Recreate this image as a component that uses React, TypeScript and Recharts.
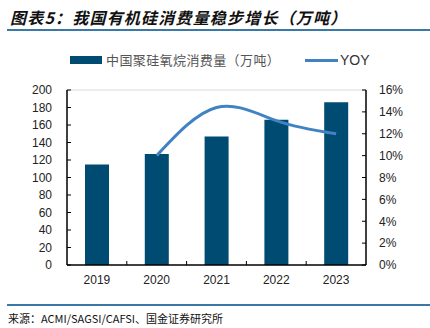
import React from 'react';
import { ComposedChart, Bar, Line, XAxis, YAxis, ReferenceLine } from 'recharts';

const years = ['2019', '2020', '2021', '2022', '2023'];
const consumption = [115, 127, 147, 166, 186];
const yoy: (number | null)[] = [null, 10.0, 14.4, 13.2, 12.0];
const leftTicks = [0, 20, 40, 60, 80, 100, 120, 140, 160, 180, 200];
const rightTicks = [0, 2, 4, 6, 8, 10, 12, 14, 16];

const data = years.map((y, i) => ({ year: y, value: consumption[i], yoy: yoy[i] }));

const BAR = '#004B71';
const LINE = '#4182C3';
const FONT = '"Liberation Sans", Arial, sans-serif';
const CJK = '"Noto Sans CJK SC", sans-serif';

const XTick = (props: any) => {
  const { x, y, payload, index, visibleTicksCount, width } = props;
  const bw = width / (visibleTicksCount || 5);
  return (
    <g>
      <text x={x} y={y + 19} textAnchor="middle" fontSize={12} fontFamily={FONT} fill="#222">
        {payload.value}
      </text>
      {index < (visibleTicksCount || 5) - 1 && (
        <line x1={x + bw / 2} x2={x + bw / 2} y1={y} y2={y - 4} stroke="#000" strokeWidth={1} />
      )}
    </g>
  );
};

export default function App() {
  return (
    <div style={{ position: 'absolute', left: 0, top: 0, width: 430, height: 328, background: '#fff', overflow: 'hidden' }}>
      <div style={{ position: 'absolute', left: 10, top: 5, fontFamily: CJK, fontSize: 16, fontWeight: 700, fontStyle: 'italic', color: '#111', whiteSpace: 'nowrap', lineHeight: '24px', letterSpacing: 1.2 }}>
        图表5：我国有机硅消费量稳步增长（万吨）
      </div>
      <div style={{ position: 'absolute', left: 7, top: 29, width: 423, height: 2, background: '#3A78A8' }} />

      <div style={{ position: 'absolute', left: 70, top: 56, width: 32, height: 8, background: BAR }} />
      <div style={{ position: 'absolute', left: 106, top: 50, fontFamily: CJK, fontSize: 13, color: '#555', whiteSpace: 'nowrap', lineHeight: '20px', letterSpacing: 0.4 }}>
        中国聚硅氧烷消费量（万吨）
      </div>
      <div style={{ position: 'absolute', left: 305, top: 59, width: 33, height: 3, background: LINE }} />
      <div style={{ position: 'absolute', left: 340, top: 50, fontFamily: FONT, fontSize: 14, color: '#333', whiteSpace: 'nowrap', lineHeight: '20px' }}>
        YOY
      </div>

      <div style={{ position: 'absolute', left: 0, top: 0 }}>
        <ComposedChart width={430} height={328} data={data} margin={{ top: 90, right: 24, bottom: 33, left: 27 }}>
          <XAxis
            dataKey="year"
            height={30}
            axisLine={{ stroke: '#000', strokeWidth: 1.5 }}
            tickLine={false}
            tickSize={0}
            tickMargin={0}
            tick={<XTick />}
            interval={0}
          />
          <YAxis
            yAxisId="left"
            orientation="left"
            width={40}
            domain={[0, 200]}
            ticks={leftTicks}
            interval={0}
            axisLine={{ stroke: '#000', strokeWidth: 1.5 }}
            tickLine={{ stroke: '#000' }}
            tickSize={-4}
            tickMargin={19}
            tick={{ fontSize: 12, fontFamily: FONT, fill: '#222' }}
          />
          <YAxis
            yAxisId="right"
            orientation="right"
            width={40}
            domain={[0, 16]}
            ticks={rightTicks}
            interval={0}
            tickFormatter={(v: number) => `${v}%`}
            axisLine={{ stroke: '#000', strokeWidth: 1.5 }}
            tickLine={{ stroke: '#000' }}
            tickSize={-4}
            tickMargin={17}
            tick={{ fontSize: 12, fontFamily: FONT, fill: '#222', textAnchor: 'start' }}
          />
          <ReferenceLine yAxisId="left" y={200} stroke="#d9d9d9" strokeWidth={1} />
          <Bar yAxisId="left" dataKey="value" fill={BAR} barSize={24} isAnimationActive={false} />
          <Line
            yAxisId="right"
            dataKey="yoy"
            type="natural"
            stroke={LINE}
            strokeWidth={3}
            dot={false}
            activeDot={false}
            isAnimationActive={false}
          />
        </ComposedChart>
      </div>

      <div style={{ position: 'absolute', left: 7, top: 304, width: 423, height: 2, background: '#3A78A8' }} />
      <div style={{ position: 'absolute', left: 8, top: 309, fontFamily: CJK, fontSize: 11, color: '#111', whiteSpace: 'nowrap', lineHeight: '18px' }}>
        来源：ACMI/SAGSI/CAFSI、国金证券研究所
      </div>
    </div>
  );
}
